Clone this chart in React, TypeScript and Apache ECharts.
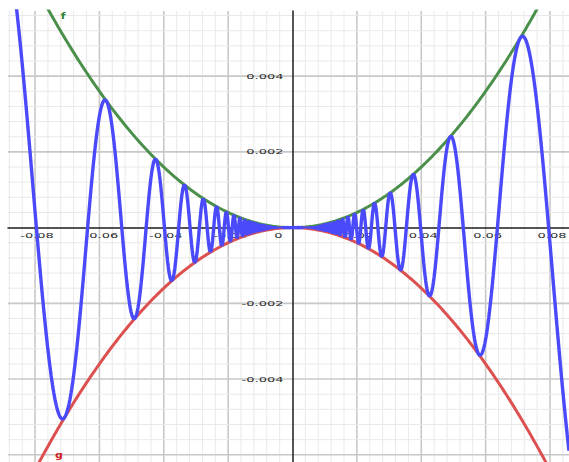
import React, { useEffect, useRef } from "react";
import * as echarts from "echarts";

// Visible window of the plot (graph units)
const xMin = -0.0884;
const xMax = 0.0859;
const yMin = -0.00619;
const yMax = 0.00572;

// Labelled ticks
const xTickValues = [-0.08, -0.06, -0.04, -0.02, 0, 0.02, 0.04, 0.06, 0.08];
const xTickLabels = ["-0.08", "-0.06", "-0.04", "-0.02", "0", "0.02", "0.04", "0.06", "0.08"];
const yTickValues = [0.004, 0.002, -0.002, -0.004];
const yTickLabels = ["0.004", "0.002", "-0.002", "-0.004"];

// Grid spacing: major lines every 0.02 / 0.002, five subdivisions each
const xMajorStep = 0.02;
const yMajorStep = 0.002;
const subdivisions = 5;

// The plotted functions
const fName = "f";
const gName = "g";
const f = (x: number) => x * x;
const g = (x: number) => -x * x;
const h = (x: number) => (x === 0 ? 0 : x * x * Math.sin(1 / x));

const fLabelAt = [-0.0713, 0.0056];
const gLabelAt = [-0.0726, -0.0060];

function gridLines() {
  const out: number[][] = [];
  const xs = xMajorStep / subdivisions;
  for (let i = Math.ceil(xMin / xs); i * xs <= xMax; i++) {
    if (i === 0) continue;
    out.push([i * xs, 0, i % subdivisions === 0 ? 1 : 0]);
  }
  const ys = yMajorStep / subdivisions;
  for (let j = Math.ceil(yMin / ys); j * ys <= yMax; j++) {
    if (j === 0) continue;
    out.push([j * ys, 1, j % subdivisions === 0 ? 1 : 0]);
  }
  return out;
}

function sampleUniform(fn: (x: number) => number, n: number) {
  const pts: number[][] = [];
  for (let i = 0; i <= n; i++) {
    const x = xMin + ((xMax - xMin) * i) / n;
    pts.push([x, fn(x)]);
  }
  return pts;
}

// Step shrinks with x² so each oscillation of x²·sin(1/x) gets ~20 samples
function sampleOscillating(fn: (x: number) => number) {
  const pts: number[][] = [];
  let x = xMin;
  while (x <= xMax) {
    pts.push([x, fn(x)]);
    x += Math.min(0.0002, Math.max(0.3 * x * x, 1.5e-5));
  }
  pts.push([xMax, fn(xMax)]);
  return pts;
}

// Tick labels are drawn wide and flat
const FONT = '13px "DejaVu Sans", sans-serif';
const LABEL_SCALE_Y = 0.6;

export default function App() {
  const ref = useRef<HTMLDivElement>(null);

  useEffect(() => {
    if (!ref.current) return;
    const chart = echarts.init(ref.current, undefined, { renderer: "svg" });

    const option: any = {
      animation: false,
      backgroundColor: "#ffffff",
      grid: { left: 8, top: 11, right: 0, bottom: 0, containLabel: false },
      xAxis: {
        type: "value",
        min: xMin,
        max: xMax,
        z: 1,
        axisLine: { onZero: true, lineStyle: { color: "#1c1c1c", width: 1.5 } },
        axisTick: { show: false },
        axisLabel: { show: false },
        splitLine: { show: false },
      },
      yAxis: {
        type: "value",
        min: yMin,
        max: yMax,
        z: 1,
        axisLine: { onZero: true, lineStyle: { color: "#1c1c1c", width: 1.5 } },
        axisTick: { show: false },
        axisLabel: { show: false },
        splitLine: { show: false },
      },
      series: [
        {
          type: "custom",
          name: "grid",
          silent: true,
          z: 0,
          clip: true,
          data: gridLines(),
          renderItem: (params: any, api: any) => {
            const v = api.value(0);
            const dir = api.value(1);
            const major = api.value(2) === 1;
            const cs = params.coordSys;
            const style = {
              stroke: major ? "#c8c8c8" : "#e9e9e9",
              lineWidth: major ? 1.6 : 1,
            };
            if (dir === 0) {
              const p = api.coord([v, 0]);
              return {
                type: "line",
                shape: { x1: p[0], y1: cs.y, x2: p[0], y2: cs.y + cs.height },
                style,
              };
            }
            const p = api.coord([0, v]);
            return {
              type: "line",
              shape: { x1: cs.x, y1: p[1], x2: cs.x + cs.width, y2: p[1] },
              style,
            };
          },
        },
        {
          type: "custom",
          name: "xTicks",
          silent: true,
          z: 2,
          data: xTickValues.map((v) => [v, 0]),
          renderItem: (params: any, api: any) => {
            const p = api.coord([api.value(0), 0]);
            const isOrigin = api.value(0) === 0;
            return {
              type: "text",
              x: isOrigin ? p[0] - 10 : p[0] + 2,
              y: p[1] + 8,
              scaleY: LABEL_SCALE_Y,
              style: {
                text: xTickLabels[params.dataIndex],
                font: FONT,
                fill: "#2a2a2a",
                align: isOrigin ? "right" : "center",
                verticalAlign: "middle",
              },
            };
          },
        },
        {
          type: "custom",
          name: "yTicks",
          silent: true,
          z: 2,
          data: yTickValues.map((v) => [0, v]),
          renderItem: (params: any, api: any) => {
            const p = api.coord([0, api.value(1)]);
            return {
              type: "text",
              x: p[0] - 9,
              y: p[1],
              scaleY: LABEL_SCALE_Y,
              style: {
                text: yTickLabels[params.dataIndex],
                font: FONT,
                fill: "#2a2a2a",
                align: "right",
                verticalAlign: "middle",
              },
            };
          },
        },
        {
          type: "custom",
          name: "curveNames",
          silent: true,
          z: 2,
          data: [fLabelAt, gLabelAt],
          renderItem: (params: any, api: any) => {
            const p = api.coord([api.value(0), api.value(1)]);
            const isF = params.dataIndex === 0;
            return {
              type: "text",
              x: p[0],
              y: p[1],
              scaleY: 0.75,
              style: {
                text: isF ? fName : gName,
                font: 'bold 11px "DejaVu Sans", sans-serif',
                fill: isF ? "#2e7d32" : "#cc2222",
                align: "center",
                verticalAlign: "middle",
              },
            };
          },
        },
        {
          type: "line",
          name: fName,
          data: sampleUniform(f, 400),
          showSymbol: false,
          symbol: "none",
          clip: true,
          z: 3,
          lineStyle: { color: "#4a8f4a", width: 3 },
        },
        {
          type: "line",
          name: gName,
          data: sampleUniform(g, 400),
          showSymbol: false,
          symbol: "none",
          clip: true,
          z: 3,
          lineStyle: { color: "#dc5050", width: 3 },
        },
        {
          type: "line",
          name: "h",
          data: sampleOscillating(h),
          showSymbol: false,
          symbol: "none",
          clip: true,
          z: 4,
          lineStyle: { color: "#4a4afa", width: 3.4 },
        },
      ],
    };

    chart.setOption(option);
    return () => chart.dispose();
  }, []);

  return (
    <div
      ref={ref}
      style={{
        position: "fixed",
        left: 0,
        top: 0,
        width: 569,
        height: 462,
        background: "#fff",
      }}
    />
  );
}
